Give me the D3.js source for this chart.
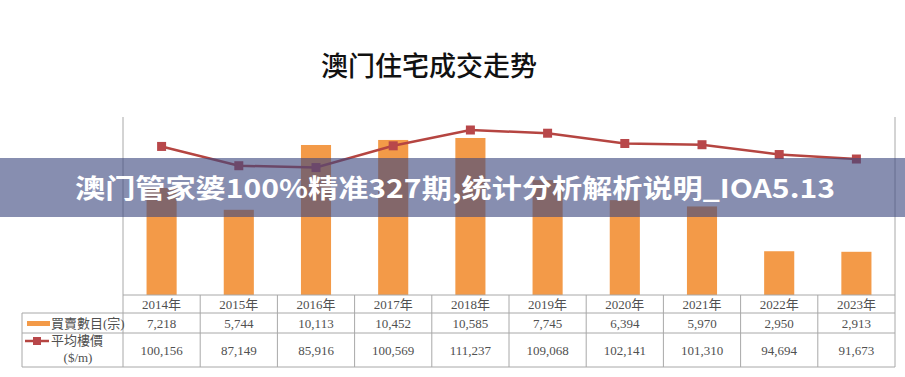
<!DOCTYPE html>
<html><head><meta charset="utf-8">
<script src="https://cdn.jsdelivr.net/npm/d3@7"></script>
<style>body{margin:0;background:#fff}svg{display:block}</style>
</head><body>
<script>
const years = ["2014年","2015年","2016年","2017年","2018年","2019年","2020年","2021年","2022年","2023年"];
const transactions = [7218,5744,10113,10452,10585,7745,6394,5970,2950,2913];
const avgPrice = [100156,87149,85916,100569,111237,109068,102141,101310,94694,91673];
const title = "澳门住宅成交走势";
const banner = "澳门管家婆100%精准327期,统计分析解析说明_IOA5.13";
const seriesLabels = ["買賣數目(宗)", "平均樓價", "($/m)"];

const W = 905, H = 377;
const svg = d3.select("body").append("svg").attr("width", W).attr("height", H);
const plotTop = 117, plotBottom = 295, left = 123, right = 895;
const x = d3.scaleBand().domain(years).range([left, right]).padding(0);
const yBar = d3.scaleLinear().domain([0, 12000]).range([plotBottom, plotTop]);
const yLine = d3.scaleLinear().domain([0, 120000]).range([plotBottom, plotTop]);
const bw = x.bandwidth(), barW = bw * 0.39;
const orange = "#f39a48", red = "#b54541", grid = "#a8a8a8";
const serif = "'Liberation Serif','Noto Sans CJK SC',serif";

// title
svg.append("text").attr("x", 429).attr("y", 76).attr("text-anchor", "middle")
  .attr("font-family", "'Noto Sans CJK SC'").attr("font-weight", 500)
  .attr("font-size", 27).attr("fill", "#111").text(title);

// axes lines
svg.append("line").attr("x1", left).attr("x2", left).attr("y1", plotTop).attr("y2", plotBottom).attr("stroke", grid);
svg.append("line").attr("x1", right).attr("x2", right).attr("y1", plotTop).attr("y2", plotBottom).attr("stroke", grid);

// bars
svg.append("g").selectAll("rect").data(years).join("rect")
  .attr("x", d => x(d) + (bw - barW) / 2).attr("width", barW)
  .attr("y", (d, i) => yBar(transactions[i]))
  .attr("height", (d, i) => plotBottom - yBar(transactions[i]))
  .attr("fill", orange);

// line
const line = d3.line().x((d, i) => x(years[i]) + bw / 2).y(d => yLine(d));
svg.append("path").datum(avgPrice).attr("d", line).attr("fill", "none")
  .attr("stroke", red).attr("stroke-width", 2.5);
svg.append("g").selectAll("rect").data(avgPrice).join("rect")
  .attr("x", (d, i) => x(years[i]) + bw / 2 - 4.5).attr("y", d => yLine(d) - 4.5)
  .attr("width", 9).attr("height", 9).attr("fill", "#b8474a");

// table
const rows = [295, 313, 333, 367];
const tLeft = 22;
const tg = svg.append("g").attr("stroke", grid).attr("stroke-width", 1);
tg.append("line").attr("x1", left).attr("x2", right).attr("y1", rows[0]).attr("y2", rows[0]);
[rows[1], rows[2], rows[3]].forEach(r => tg.append("line").attr("x1", tLeft).attr("x2", right).attr("y1", r).attr("y2", r));
tg.append("line").attr("x1", tLeft).attr("x2", tLeft).attr("y1", rows[1]).attr("y2", rows[3]);
years.forEach(y => tg.append("line").attr("x1", x(y)).attr("x2", x(y)).attr("y1", rows[0]).attr("y2", rows[3]));
tg.append("line").attr("x1", right).attr("x2", right).attr("y1", rows[0]).attr("y2", rows[3]);

const fmt = d3.format(",");
const txt = svg.append("g").attr("font-family", serif).attr("font-size", 13).attr("fill", "#505050").attr("text-anchor", "middle");
years.forEach((y, i) => {
  const cx = x(y) + bw / 2;
  txt.append("text").attr("x", cx).attr("y", 309).text(y);
  txt.append("text").attr("x", cx).attr("y", 328).text(fmt(transactions[i]));
  txt.append("text").attr("x", cx).attr("y", 355).text(fmt(avgPrice[i]));
});

// legend cells
svg.append("rect").attr("x", 27).attr("y", 321).attr("width", 23).attr("height", 5).attr("fill", orange);
svg.append("text").attr("x", 51).attr("y", 328).attr("font-family", serif).attr("font-size", 13).attr("fill", "#505050").text(seriesLabels[0]);
svg.append("line").attr("x1", 25).attr("x2", 49).attr("y1", 341).attr("y2", 341).attr("stroke", red).attr("stroke-width", 2.5);
svg.append("rect").attr("x", 33).attr("y", 337).attr("width", 8).attr("height", 8).attr("fill", "#b8474a");
svg.append("text").attr("x", 51).attr("y", 345).attr("font-family", serif).attr("font-size", 13).attr("fill", "#505050").text(seriesLabels[1]);
svg.append("text").attr("x", 78).attr("y", 362).attr("text-anchor", "middle").attr("font-family", serif).attr("font-size", 13).attr("fill", "#505050").text(seriesLabels[2]);

// banner overlay
svg.append("rect").attr("x", 0).attr("y", 158).attr("width", W).attr("height", 59)
  .attr("fill", "rgb(62,72,128)").attr("opacity", 0.62);
svg.append("text").attr("x", 455).attr("y", 198).attr("text-anchor", "middle")
  .attr("font-family", "'Noto Sans CJK SC'").attr("font-weight", 700).attr("font-size", 26)
  .attr("fill", "#fff").attr("textLength", 760).attr("lengthAdjust", "spacingAndGlyphs").text(banner);
</script>
</body></html>
